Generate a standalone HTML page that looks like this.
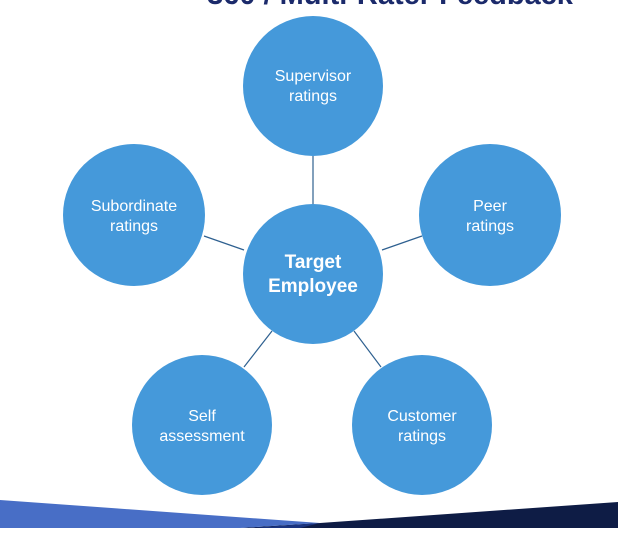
<!DOCTYPE html>
<html><head><style>
body{margin:0;width:618px;height:528px;overflow:hidden;background:#fff;font-family:"Liberation Sans",sans-serif;}
</style></head><body>
<svg width="618" height="528" xmlns="http://www.w3.org/2000/svg">
<text x="390" y="4" text-anchor="middle" font-family="Liberation Sans" font-weight="bold" font-size="29" fill="#1b2a6b">360 / Multi-Rater Feedback</text>
<polygon points="320,523 618,502 618,528 240,528" fill="#0e1c45"/>
<polygon points="0,500 320,523 240,528 0,528" fill="#486ec6"/>
<polygon points="250,528 320,523 300,528" fill="#1a3480"/>
<g stroke="#2e6090" stroke-width="1.2">
<line x1="313" y1="156" x2="313" y2="204"/>
<line x1="204" y1="236" x2="244" y2="250"/>
<line x1="422" y1="236" x2="382" y2="250"/>
<line x1="272" y1="331" x2="244" y2="367"/>
<line x1="354" y1="331" x2="381" y2="367"/>
</g>
<g fill="#4599da">
<circle cx="313" cy="86" r="70"/>
<circle cx="490" cy="215" r="71"/>
<circle cx="134" cy="215" r="71"/>
<circle cx="313" cy="274" r="70"/>
<circle cx="202" cy="425" r="70"/>
<circle cx="422" cy="425" r="70"/>
</g>
<g fill="#fff" font-family="Liberation Sans" font-size="16" text-anchor="middle">
<text x="313" y="81">Supervisor</text><text x="313" y="101">ratings</text>
<text x="490" y="211">Peer</text><text x="490" y="231">ratings</text>
<text x="134" y="211">Subordinate</text><text x="134" y="231">ratings</text>
<text x="202" y="421">Self</text><text x="202" y="441">assessment</text>
<text x="422" y="421">Customer</text><text x="422" y="441">ratings</text>
<text x="313" y="268" font-weight="bold" font-size="19">Target</text>
<text x="313" y="292" font-weight="bold" font-size="19">Employee</text>
</g>
</svg>
</body></html>
